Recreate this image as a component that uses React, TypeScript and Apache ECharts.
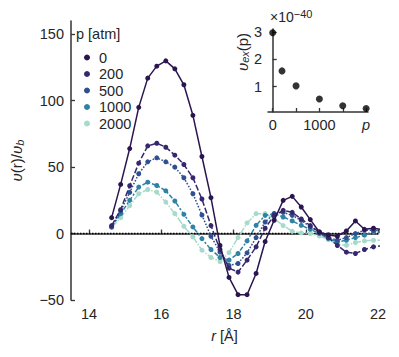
import React, { useEffect, useRef } from "react";
import * as echarts from "echarts";

const rValues = [14.625, 14.875, 15.125, 15.375, 15.625, 15.875, 16.125, 16.375, 16.625, 16.875, 17.125, 17.375, 17.625, 17.875, 18.125, 18.375, 18.625, 18.875, 19.125, 19.375, 19.625, 19.875, 20.125, 20.375, 20.625, 20.875, 21.125, 21.375, 21.625, 21.875, 22.125];
const pressures = ["0", "200", "500", "1000", "2000"];
const v0 = [12, 37, 64, 95, 117, 126, 130, 124, 112, 89, 58, 27, -9, -33, -46, -46, -30, -6, 10, 25, 28, 20, 10.5, 1.2, -1, -2, 2, 9.5, 3.2, 4, 3];
const v200 = [6, 18, 36, 53, 66, 68, 65, 59, 52, 42, 26, 6, -12, -26, -29, -20, -10, 4, 13.7, 17.5, 16, 11, 6, 1, -3, -9, -14, -15, -12, -10, -9];
const v500 = [5, 17, 31, 45, 54, 57, 54, 50, 42, 30, 14, -2, -14, -24, -22.5, -14.5, -3, 8.7, 15, 16, 13.7, 10, 5, 1.2, -3, -5, -3, 0, 2.5, 2.5, 2];
const v1000 = [5, 15, 25, 35, 38.7, 36.2, 32.2, 24.5, 14.5, 5, -3.8, -12, -18, -20, -15, -5.5, 6.2, 13.7, 15, 12.5, 9.5, 6.2, 3.2, 0, -3.8, -6.3, -5, -3, -1.2, 1.2, 1];
const v2000 = [4.5, 12, 21, 30, 33.2, 31.2, 23.7, 15, 5.5, -2.5, -12.5, -18, -21, -14.3, -3, 8, 15, 15, 11.2, 6, 1.7, 0.5, 0, -1.8, -4.5, -8.2, -8.8, -6.7, -5.5, -5, -5];
const seriesValues = [v0, v200, v500, v1000, v2000];
const xTicks = [14, 16, 18, 20, 22];
const yTicks = [-50, 0, 50, 100, 150];

const insetP = [0, 200, 500, 1000, 1500, 2000];
const insetV = [2.98, 1.58, 1.03, 0.55, 0.3, 0.2];
const insetXTicks = [0, 500, 1000, 1500, 2000];
const insetXLabels = [0, 1000, 2000];
const insetYTicks = [1, 2, 3];

const colors = ["#2b1550", "#35286e", "#2f4f8e", "#2e82a4", "#a6dacb"];
const dashes: any[] = ["solid", [6, 2.2], [1.6, 1.6], [4.5, 1.9, 2.2, 1.9], [7.5, 1.5, 1.5, 1.5]];

const FONT = "Liberation Sans, Arial, sans-serif";
const TXT = "#262626";
const AX = "#333333";

export default function App() {
  const ref = useRef<HTMLDivElement>(null);
  useEffect(() => {
    if (!ref.current) return;
    const chart = echarts.init(ref.current, null, { renderer: "svg" });
    const lineSeries: any[] = pressures.map((p, i) => ({
      name: p,
      type: "line",
      xAxisIndex: 0,
      yAxisIndex: 0,
      data: rValues.map((r, j) => [r, seriesValues[i][j]]),
      symbol: "circle",
      symbolSize: 5,
      showSymbol: true,
      clip: true,
      z: 10 - i,
      itemStyle: { color: colors[i] },
      lineStyle: { color: colors[i], width: 1.5, type: dashes[i] },
      ...(i === 0
        ? {
            markLine: {
              silent: true,
              symbol: "none",
              label: { show: false },
              lineStyle: { color: "#000", type: [1.5, 1.5], width: 1.3 },
              data: [{ yAxis: 0 }],
            },
          }
        : {}),
    }));
    const option: any = {
      animation: false,
      textStyle: { fontFamily: FONT },
      grid: [
        { left: 71, right: 21, top: 21, bottom: 57 },
        { left: 268, right: 31, top: 29, bottom: 245 },
      ],
      legend: {
        data: pressures,
        orient: "vertical",
        left: 79,
        top: 45,
        icon: "circle",
        itemWidth: 6,
        itemHeight: 6,
        itemGap: 1.5,
        textStyle: { fontFamily: FONT, fontSize: 14.5, color: TXT, lineHeight: 15, padding: [0, 0, 0, 4] },
      },
      xAxis: [
        {
          type: "value",
          gridIndex: 0,
          min: 13.5,
          max: 22,
          splitLine: { show: false },
          axisLine: { lineStyle: { color: AX, width: 1.5 } },
          axisTick: { inside: true, length: 4, customValues: xTicks, lineStyle: { color: AX, width: 1.3 } },
          axisLabel: { customValues: xTicks, fontFamily: FONT, fontSize: 14.5, color: TXT, margin: 6 },
          name: "{i|r} [Å]",
          nameLocation: "middle",
          nameGap: 28,
          nameTextStyle: {
            fontFamily: FONT,
            fontSize: 14.5,
            color: TXT,
            rich: { i: { fontStyle: "italic", fontFamily: FONT, fontSize: 14.5, color: TXT } },
          },
        },
        {
          type: "value",
          gridIndex: 1,
          min: -100,
          max: 2040,
          splitLine: { show: false },
          axisLine: { lineStyle: { color: AX, width: 1.5 } },
          axisTick: { inside: true, length: 4, customValues: insetXTicks, lineStyle: { color: AX, width: 1.3 } },
          axisLabel: {
            customValues: insetXLabels,
            fontFamily: FONT,
            fontSize: 14.5,
            color: TXT,
            margin: 5,
            formatter: (v: number) => (v === 2000 ? "{i|p}" : String(v)),
            rich: { i: { fontStyle: "italic", fontFamily: FONT, fontSize: 14.5, color: TXT } },
          },
        },
      ],
      yAxis: [
        {
          type: "value",
          gridIndex: 0,
          min: -50,
          max: 160,
          splitLine: { show: false },
          axisLine: { lineStyle: { color: AX, width: 1.5 } },
          axisTick: { inside: true, length: 4, customValues: yTicks, lineStyle: { color: AX, width: 1.3 } },
          axisLabel: {
            customValues: yTicks,
            fontFamily: FONT,
            fontSize: 14.5,
            color: TXT,
            margin: 7,
            formatter: (v: number) => (v < 0 ? "\u2212" + Math.abs(v) : String(v)),
          },
          name: "{i|υ}(r)/{i|υ}{s|b}",
          nameLocation: "middle",
          nameGap: 46,
          nameRotate: 90,
          nameTextStyle: {
            fontFamily: FONT,
            fontSize: 15,
            color: TXT,
            rich: {
              i: { fontStyle: "italic", fontFamily: FONT, fontSize: 15, color: TXT },
              s: { fontStyle: "italic", fontFamily: FONT, fontSize: 11, color: TXT, verticalAlign: "bottom", padding: [6, 0, 0, 0] },
            },
          },
        },
        {
          type: "value",
          gridIndex: 1,
          min: 0.07,
          max: 3.12,
          splitLine: { show: false },
          axisLine: { lineStyle: { color: AX, width: 1.5 } },
          axisTick: { inside: true, length: 4, customValues: insetYTicks, lineStyle: { color: AX, width: 1.3 } },
          axisLabel: { customValues: insetYTicks, fontFamily: FONT, fontSize: 14.5, color: TXT, margin: 6 },
        },
      ],
      graphic: [
        {
          type: "text",
          left: 76,
          top: 26,
          style: { text: "p [atm]", fontFamily: FONT, fontSize: 14.5, fill: TXT },
        },
        {
          type: "text",
          x: 270,
          y: 8,
          style: {
            text: "×10{s|−40}",
            fontFamily: FONT,
            fontSize: 14,
            fill: TXT,
            rich: { s: { fontFamily: FONT, fontSize: 11, fill: TXT, padding: [0, 0, 7, 0] } },
          },
        },
        {
          type: "text",
          x: 242,
          y: 52,
          rotation: Math.PI / 2,
          style: {
            text: "{i|υ}{s|ex}(p)",
            align: "center",
            verticalAlign: "middle",
            fontFamily: FONT,
            fontSize: 15,
            fill: TXT,
            rich: {
              i: { fontStyle: "italic", fontFamily: FONT, fontSize: 15, fill: TXT },
              s: { fontStyle: "italic", fontFamily: FONT, fontSize: 11, fill: TXT, padding: [6, 0, 0, 0] },
            },
          },
        },
      ],
      series: [
        ...lineSeries,
        {
          name: "inset",
          type: "scatter",
          xAxisIndex: 1,
          yAxisIndex: 1,
          data: insetP.map((p, i) => [p, insetV[i]]),
          symbol: "circle",
          symbolSize: 7,
          itemStyle: { color: "#000" },
        },
      ],
    };
    chart.setOption(option);
    return () => chart.dispose();
  }, []);
  return <div ref={ref} style={{ width: 399, height: 357, position: "absolute", left: 0, top: 0 }} />;
}
